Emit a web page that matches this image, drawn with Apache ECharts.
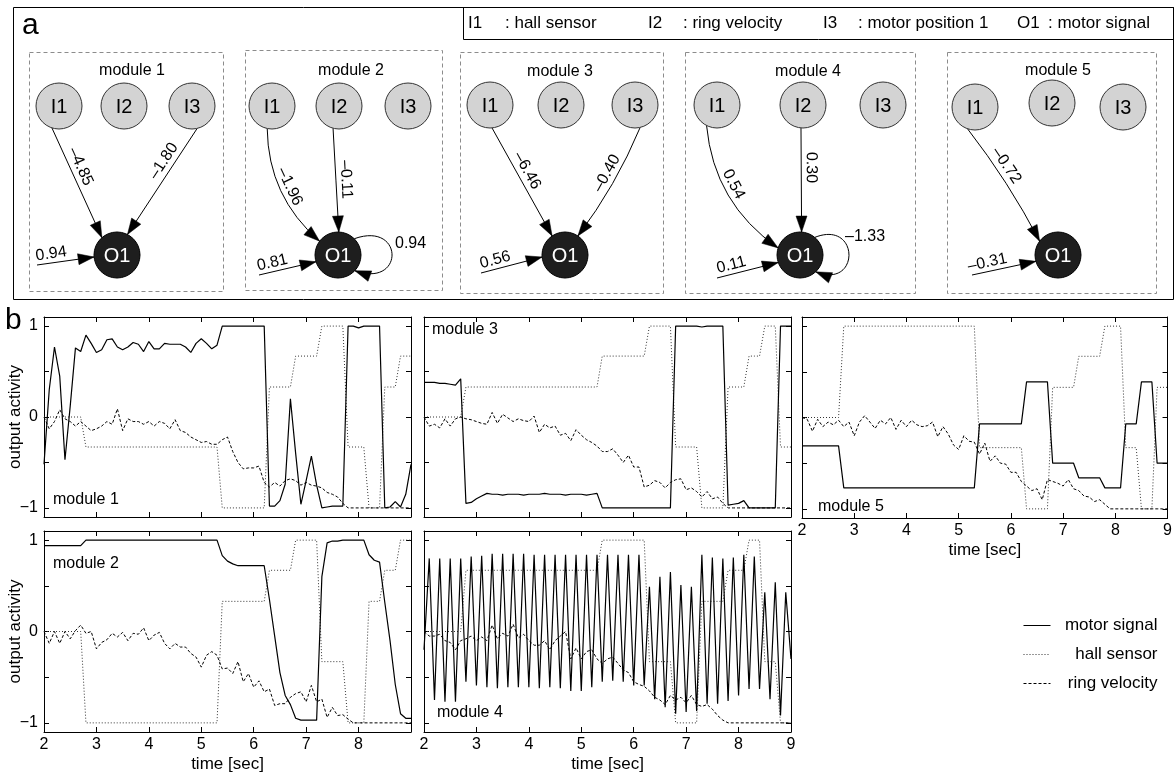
<!DOCTYPE html>
<html><head><meta charset="utf-8">
<script src="https://cdn.jsdelivr.net/npm/echarts@6.0.0/dist/echarts.min.js"></script>
<style>html,body{margin:0;padding:0;background:#fff}#c{width:1175px;height:776px}</style>
</head><body><div id="c"></div>
<script>
// ---------------- DATA ----------------
const times = [2.0,2.1,2.2,2.3,2.4,2.5,2.6,2.7,2.8,2.9,3.0,3.1,3.2,3.3,3.4,3.5,3.6,3.7,3.8,3.9,
  4.0,4.1,4.2,4.3,4.4,4.5,4.6,4.7,4.8,4.9,5.0,5.1,5.2,5.3,5.4,5.5,5.6,5.7,5.8,5.9,
  6.0,6.1,6.2,6.3,6.4,6.5,6.6,6.7,6.8,6.9,7.0,7.1,7.2,7.3,7.4,7.5,7.6,7.7,7.8,7.9,
  8.0,8.1,8.2,8.3,8.4,8.5,8.6,8.7,8.8,8.9,9.0];
const xTickLabels = [2,3,4,5,6,7,8,9];
const yTickLabels = [-1,0,1];

const motor1 = [-0.52,0.30,0.77,0.45,-0.47,0.12,0.76,0.72,0.90,0.81,
  0.71,0.74,0.85,0.86,0.77,0.74,0.77,0.82,0.80,0.72,
  0.83,0.75,0.75,0.81,0.80,0.80,0.80,0.77,0.71,0.81,
  0.86,0.81,0.75,0.79,1.00,1.00,1.00,1.00,1.00,1.00,
  1.00,1.00,1.00,-0.98,-0.98,-0.92,-0.74,0.20,-0.40,-0.96,
  -0.70,-0.43,-0.75,-1.00,-0.99,-0.98,-0.98,-0.98,1.00,1.00,
  0.98,1.00,1.00,1.00,1.00,-1.00,-0.99,-0.93,-0.99,-0.85,
  -0.52];
const hall1 = [0,0,0,0,0,0,0,0,-0.33,-0.33,
  -0.33,-0.33,-0.33,-0.33,-0.33,-0.33,-0.33,-0.33,-0.33,-0.33,
  -0.33,-0.33,-0.33,-0.33,-0.33,-0.33,-0.33,-0.33,-0.33,-0.33,
  -0.33,-0.33,-0.33,-0.33,-1,-1,-1,-1,-1,-1,
  -1,-1,-1,0.33,0.33,0.33,0.33,0.33,0.67,0.67,
  0.67,0.67,0.67,1,1,1,1,1,-0.33,-0.33,
  -0.33,-0.33,-1,-1,-1,0.33,0.33,0.33,0.67,0.67,
  0.67];
const ring1 = [0,-0.13,-0.05,0.08,-0.02,-0.05,-0.10,-0.05,-0.10,-0.15,
  -0.13,-0.10,-0.05,-0.08,0.09,-0.15,-0.02,-0.05,-0.05,-0.08,
  -0.05,-0.10,-0.05,-0.07,-0.13,-0.03,-0.15,-0.17,-0.22,-0.25,
  -0.28,-0.27,-0.30,-0.30,-0.25,-0.22,-0.38,-0.50,-0.57,-0.56,
  -0.56,-0.54,-0.72,-0.77,-0.72,-0.76,-0.70,-0.68,-0.70,-0.75,
  -0.72,-0.75,-0.76,-0.78,-0.83,-0.85,-0.88,-0.95,-1,-1,
  -1,-1,-1,-1,-1,-1,-1,-1,-1,-1,
  -1];

const motor2 = [0.94,0.94,0.94,0.94,0.94,0.94,0.94,0.94,1,1,
  1,1,1,1,1,1,1,1,1,1,
  1,1,1,1,1,1,1,1,1,1,
  1,1,1,1,0.83,0.77,0.74,0.72,0.72,0.72,
  0.72,0.72,0.72,0.35,-0.05,-0.45,-0.70,-0.80,-0.95,-0.97,
  -0.97,-0.97,-0.97,0.60,0.97,0.99,0.99,1,1,1,
  1,1,0.84,0.78,0.76,0.32,-0.10,-0.58,-0.90,-0.95,
  -0.95];
const hall2 = [0,0,0,0,0,0,0,0,-1,-1,
  -1,-1,-1,-1,-1,-1,-1,-1,-1,-1,
  -1,-1,-1,-1,-1,-1,-1,-1,-1,-1,
  -1,-1,-1,-1,0.33,0.33,0.33,0.33,0.33,0.33,
  0.33,0.33,0.33,0.67,0.67,0.67,0.67,0.67,1,1,
  1,1,1,-0.33,-0.33,-0.33,-0.33,-0.33,-1,-1,
  -1,-1,0.33,0.33,0.33,0.67,0.67,0.67,1,1,
  1];
const ring2 = [0,-0.13,0,-0.13,0,-0.08,0.01,0.07,-0.02,0,
  -0.19,-0.12,-0.09,-0.02,-0.06,-0.01,-0.10,-0.02,-0.03,0.04,
  -0.10,-0.04,-0.01,-0.13,-0.19,-0.13,-0.17,-0.17,-0.24,-0.28,
  -0.39,-0.26,-0.22,-0.26,-0.41,-0.40,-0.46,-0.33,-0.55,-0.46,
  -0.61,-0.54,-0.66,-0.63,-0.81,-0.79,-0.79,-0.72,-0.68,-0.66,
  -0.77,-0.59,-0.77,-0.74,-0.94,-0.83,-0.92,-0.91,-0.96,-1,
  -1,-1,-1,-1,-1,-1,-1,-1,-1,-1,
  -1];

const motor3 = [0.38,0.38,0.38,0.37,0.37,0.36,0.35,0.42,-0.95,-0.94,
  -0.90,-0.87,-0.84,-0.85,-0.85,-0.86,-0.85,-0.85,-0.85,-0.86,
  -0.85,-0.85,-0.85,-0.84,-0.85,-0.85,-0.85,-0.86,-0.85,-0.85,
  -0.85,-0.86,-0.85,-0.84,-1,-1,-1,-1,-1,-1,
  -1,-1,-1,-1,-1,-1,-1,-1,1,1,
  1,1,1,0.99,1,1,1,1,-0.97,-0.96,
  -0.95,-0.92,-1,-1,-1,-1,-1,-1,1,1,
  1];
const hall3 = [0,0,0,0,0,0,0,0,0.33,0.33,
  0.33,0.33,0.33,0.33,0.33,0.33,0.33,0.33,0.33,0.33,
  0.33,0.33,0.33,0.33,0.33,0.33,0.33,0.33,0.33,0.33,
  0.33,0.33,0.33,0.33,0.67,0.67,0.67,0.67,0.67,0.67,
  0.67,0.67,0.67,1,1,1,1,1,-0.33,-0.33,
  -0.33,-0.33,-0.33,-1,-1,-1,-1,-1,0.33,0.33,
  0.33,0.33,0.67,0.67,0.67,1,1,1,-0.33,-0.33,
  -0.33];
const ring3 = [0,-0.10,-0.08,-0.12,-0.02,-0.10,-0.02,0,-0.02,-0.03,
  -0.05,-0.07,-0.08,0.05,-0.07,0.03,-0.01,-0.05,-0.02,-0.04,
  -0.05,0.01,-0.17,-0.08,-0.12,-0.10,-0.20,-0.18,-0.26,-0.14,
  -0.20,-0.25,-0.28,-0.32,-0.38,-0.38,-0.35,-0.42,-0.50,-0.42,
  -0.55,-0.55,-0.77,-0.75,-0.70,-0.72,-0.78,-0.72,-0.69,-0.68,
  -0.80,-0.78,-0.82,-0.88,-0.82,-0.90,-0.88,-0.95,-1,-1,
  -1,-1,-1,-1,-1,-1,-1,-1,-1,-1,
  -1];

const motor4 = [-0.20,0.80,-0.75,0.80,-0.77,0.80,-0.77,0.80,-0.55,0.82,
  -0.59,0.83,-0.61,0.85,-0.62,0.85,-0.61,0.85,-0.61,0.85,
  -0.61,0.84,-0.62,0.84,-0.61,0.84,-0.62,0.84,-0.65,0.84,
  -0.65,0.84,-0.61,0.84,-0.55,0.84,-0.54,0.84,-0.55,0.84,
  -0.59,0.84,-0.59,0.49,-0.74,0.60,-0.83,0.65,-0.90,0.51,
  -0.88,0.49,-0.87,0.84,-0.79,0.81,-0.79,0.80,-0.76,0.81,
  -0.70,0.84,-0.63,0.82,-0.63,0.43,-0.74,0.54,-0.92,0.43,
  -0.30];
const hall4 = [0,0,0,0,0,0,0,0,0.67,0.67,
  0.67,0.67,0.67,0.67,0.67,0.67,0.67,0.67,0.67,0.67,
  0.67,0.67,0.67,0.67,0.67,0.67,0.67,0.67,0.67,0.67,
  0.67,0.67,0.67,0.67,1,1,1,1,1,1,
  1,1,1,-0.33,-0.33,-0.33,-0.33,-0.33,-1,-1,
  -1,-1,-1,0.33,0.33,0.33,0.33,0.33,0.67,0.67,
  0.67,0.67,1,1,1,-0.33,-0.33,-0.33,-1,-1,
  -1];
const ring4 = [0,-0.05,-0.05,-0.03,-0.10,-0.12,-0.20,-0.10,-0.08,-0.05,
  -0.10,-0.06,-0.10,0.07,-0.08,-0.02,-0.05,0.08,-0.07,-0.03,
  -0.10,-0.15,-0.15,-0.10,-0.20,-0.10,-0.05,0,-0.30,-0.18,
  -0.30,-0.22,-0.20,-0.30,-0.35,-0.30,-0.28,-0.35,-0.42,-0.45,
  -0.55,-0.58,-0.60,-0.65,-0.72,-0.75,-0.80,-0.70,-0.75,-0.72,
  -0.78,-0.70,-0.80,-0.82,-0.80,-0.85,-0.92,-0.97,-1,-1,
  -1,-1,-1,-1,-1,-1,-1,-1,-1,-1,
  -1];

const motor5 = [-0.31,-0.31,-0.31,-0.31,-0.31,-0.31,-0.31,-0.31,-0.77,-0.77,
  -0.77,-0.77,-0.77,-0.77,-0.77,-0.77,-0.77,-0.77,-0.77,-0.77,
  -0.77,-0.77,-0.77,-0.77,-0.77,-0.77,-0.77,-0.77,-0.77,-0.77,
  -0.77,-0.77,-0.77,-0.77,-0.07,-0.07,-0.07,-0.07,-0.07,-0.07,
  -0.07,-0.07,-0.07,0.39,0.39,0.39,0.39,0.39,-0.50,-0.50,
  -0.50,-0.50,-0.50,-0.66,-0.66,-0.66,-0.66,-0.66,-0.77,-0.77,
  -0.77,-0.77,-0.07,-0.07,-0.07,0.39,0.39,0.39,-0.50,-0.50,
  -0.50];
const hall5 = [0,0,0,0,0,0,0,0,1,1,
  1,1,1,1,1,1,1,1,1,1,
  1,1,1,1,1,1,1,1,1,1,
  1,1,1,1,-0.33,-0.33,-0.33,-0.33,-0.33,-0.33,
  -0.33,-0.33,-0.33,-1,-1,-1,-1,-1,0.33,0.33,
  0.33,0.33,0.33,0.67,0.67,0.67,0.67,0.67,1,1,
  1,1,-0.33,-0.33,-0.33,-1,-1,-1,0.33,0.33,
  0.33];
const ring5 = [0,-0.02,-0.15,-0.02,-0.10,-0.05,-0.08,-0.03,-0.10,-0.05,
  -0.20,-0.05,0.02,-0.05,-0.12,-0.03,-0.07,0,-0.13,-0.03,
  -0.10,-0.03,-0.08,-0.10,-0.09,-0.05,-0.21,-0.10,-0.18,-0.30,
  -0.35,-0.20,-0.26,-0.27,-0.40,-0.28,-0.48,-0.42,-0.50,-0.51,
  -0.60,-0.60,-0.70,-0.75,-0.80,-0.78,-0.90,-0.68,-0.70,-0.72,
  -0.75,-0.68,-0.78,-0.80,-0.86,-0.87,-0.92,-0.90,-0.95,-1,
  -1,-1,-1,-1,-1,-1,-1,-1,-1,-1,
  -1];

const seriesNames = ['motor signal','hall sensor','ring velocity'];
const moduleNames = ['module 1','module 2','module 3','module 4','module 5'];
const inputNames = ['I1','I2','I3'];
const outputName = 'O1';
const nodeLegend = [['I1','hall sensor'],['I2','ring velocity'],['I3','motor position 1'],['O1','motor signal']];
// network weights
const edgeModule = [0,0,1,1,2,2,3,3,4];
const edgeSource = ['I1','I3','I1','I2','I1','I3','I1','I2','I1'];
const edgeWeight = [-4.85,-1.80,-1.96,-0.11,-6.46,-0.40,0.54,0.30,-0.72];
const biasWeight = [0.94,0.81,0.56,0.11,-0.31];
const selfWeight = [null,0.94,null,-1.33,null];

// ---------------- LAYOUT / STYLE ----------------
const FONT = '"Liberation Sans", Arial, Helvetica, sans-serif';
const NODE_R = 23, AL = 16, AW = 5.5;
const diagramModules = [
  {box:[29,52,194,239], title:[132,71], inputs:[[59,106],[124,106],[192,106]], out:[117,255], biasFrom:[37,265], biasAngle:175, loop:null},
  {box:[245,50,197,240], title:[351,71], inputs:[[272,106],[339,106],[408,106]], out:[338,255], biasFrom:[259,275], biasAngle:163, loop:{a0:-45,a1:43,k:50,k2:18,label:[395,244]}},
  {box:[460,52,203,241], title:[560,72], inputs:[[490,105],[561,105],[635,105]], out:[565,255], biasFrom:[481,273], biasAngle:175, loop:null},
  {box:[685,52,230,241], title:[808,72], inputs:[[717,105],[803,105],[883,105]], out:[800,255], biasFrom:[717,278], biasAngle:161, loop:{a0:-50,a1:47,k:45,k2:18,label:[845,237]}},
  {box:[947,52,209,241], title:[1058,71], inputs:[[975,107],[1052,103],[1123,107]], out:[1058,255], biasFrom:[972,275], biasAngle:164, loop:null}
];
const edgeShape = [
  {sa:108, ea:-131, bend:0, t:0.39},
  {sa:77, ea:-63, bend:0, t:0.36},
  {sa:102, ea:-143, bend:28, t:0.5},
  {sa:105, ea:-88, bend:0, t:0.5},
  {sa:85, ea:-124, bend:0, t:0.44},
  {sa:77, ea:-56, bend:-8, t:0.45},
  {sa:117, ea:-162, bend:33, t:0.45},
  {sa:95, ea:-86, bend:0, t:0.38},
  {sa:109, ea:-143, bend:-6, t:0.39}
];
const plots = [
  {grid:{left:44,top:317,width:367,height:200}, xLabels:null, yLabels:true, xName:false, label:[53,500]},
  {grid:{left:44,top:531,width:367,height:201}, xLabels:[2,3,4,5,6,7,8], yLabels:true, xName:true, label:[53,564]},
  {grid:{left:424,top:317,width:367,height:200}, xLabels:null, yLabels:false, xName:false, label:[432,330]},
  {grid:{left:424,top:531,width:367,height:201}, xLabels:xTickLabels, yLabels:false, xName:true, label:[437,713]},
  {grid:{left:802,top:317,width:367,height:201}, xLabels:xTickLabels, yLabels:false, xName:true, label:[818,507]}
];
const moduleData = [[motor1,hall1,ring1],[motor2,hall2,ring2],[motor3,hall3,ring3],[motor4,hall4,ring4],[motor5,hall5,ring5]];
const lineStyles = [
  {color:'#000', width:1.2, type:'solid'},
  {color:'#333', width:1, type:[1,2]},
  {color:'#000', width:1, type:[3,2]}
];

// ---------------- HELPERS ----------------
function fmtW(w){ return (w < 0 ? '\u2013' : '') + Math.abs(w).toFixed(2); }
function txt(s, x, y, size, align, extra){
  return Object.assign({type:'text', x:x, y:y, style:{text:s, font:size+'px '+FONT, fill:'#000',
    textAlign:align, textVerticalAlign:'middle', align:align, verticalAlign:'middle'}}, extra||{});
}
function onCircle(c, ang){ const a = ang*Math.PI/180; return [c[0]+NODE_R*Math.cos(a), c[1]+NODE_R*Math.sin(a)]; }
function arrowHead(tip, from){
  const dx = tip[0]-from[0], dy = tip[1]-from[1], l = Math.hypot(dx,dy);
  const ux = dx/l, uy = dy/l, bx = tip[0]-ux*AL, by = tip[1]-uy*AL;
  return {type:'polygon', shape:{points:[[tip[0],tip[1]],[bx-uy*AW,by+ux*AW],[bx+uy*AW,by-ux*AW]]}, style:{fill:'#000', stroke:'#000', lineWidth:0.5}};
}
function quadPt(p0,c,p2,t){ const u=1-t; return [u*u*p0[0]+2*u*t*c[0]+t*t*p2[0], u*u*p0[1]+2*u*t*c[1]+t*t*p2[1]]; }
function quadTan(p0,c,p2,t){ const u=1-t; return [2*u*(c[0]-p0[0])+2*t*(p2[0]-c[0]), 2*u*(c[1]-p0[1])+2*t*(p2[1]-c[1])]; }
function alongLabel(s, pos, tan, off){
  let tx = tan[0], ty = tan[1];
  if (Math.abs(tx) < 0.1*Math.abs(ty)) { tx = Math.abs(tx); ty = Math.abs(ty); }
  let th = Math.atan2(ty, tx);
  if (tx < 0) th += Math.PI;
  return txt(s, pos[0] + off*Math.sin(th), pos[1] - off*Math.cos(th), 16, 'center', {rotation:-th});
}

function renderModule(params, api){
  const k = params.dataIndex;
  const L = diagramModules[k];
  const P = p => api.coord(p);
  const ch = [];
  const b0 = P([L.box[0], L.box[1]]), b1 = P([L.box[0]+L.box[2], L.box[1]+L.box[3]]);
  ch.push({type:'rect', shape:{x:b0[0]+0.5, y:b0[1]+0.5, width:b1[0]-b0[0], height:b1[1]-b0[1]},
    style:{fill:'none', stroke:'#8c8c8c', lineWidth:1, lineDash:[4,3]}});
  const tp = P(L.title);
  ch.push(txt(moduleNames[k], tp[0], tp[1], 16, 'center'));
  const inPts = L.inputs.map(P);
  const o = P(L.out);
  // edges from inputs
  edgeModule.forEach((m, e) => {
    if (m !== k) return;
    const sh = edgeShape[e];
    const src = inPts[inputNames.indexOf(edgeSource[e])];
    const p0 = onCircle(src, sh.sa), p2 = onCircle(o, sh.ea);
    const dx = p2[0]-p0[0], dy = p2[1]-p0[1], len = Math.hypot(dx,dy);
    const c = [(p0[0]+p2[0])/2 - dy/len*sh.bend, (p0[1]+p2[1])/2 + dx/len*sh.bend];
    ch.push({type:'bezierCurve', shape:{x1:p0[0],y1:p0[1],x2:p2[0],y2:p2[1],cpx1:c[0],cpy1:c[1]},
      style:{fill:'none', stroke:'#000', lineWidth:1}});
    ch.push(arrowHead(p2, c));
    ch.push(alongLabel(fmtW(edgeWeight[e]), quadPt(p0,c,p2,sh.t), quadTan(p0,c,p2,sh.t), 10));
  });
  // bias
  const bs = P(L.biasFrom), bt = onCircle(o, L.biasAngle);
  ch.push({type:'line', shape:{x1:bs[0],y1:bs[1],x2:bt[0],y2:bt[1]}, style:{stroke:'#000', lineWidth:1}});
  ch.push(arrowHead(bt, bs));
  const bmid = [bs[0]+(bt[0]-bs[0])*0.27, bs[1]+(bt[1]-bs[1])*0.27];
  ch.push(alongLabel(fmtW(biasWeight[k]), bmid, [bt[0]-bs[0], bt[1]-bs[1]], 9));
  // self loop
  if (L.loop && selfWeight[k] !== null) {
    const lp = L.loop;
    const q0 = onCircle(o, lp.a0), q3 = onCircle(o, lp.a1);
    const c1 = [q0[0]+lp.k, q0[1]-lp.k2], c2 = [q3[0]+lp.k, q3[1]+lp.k2];
    ch.push({type:'bezierCurve', shape:{x1:q0[0],y1:q0[1],x2:q3[0],y2:q3[1],cpx1:c1[0],cpy1:c1[1],cpx2:c2[0],cpy2:c2[1]},
      style:{fill:'none', stroke:'#000', lineWidth:1}});
    ch.push(arrowHead(q3, c2));
    const lpos = P(lp.label);
    ch.push(txt(fmtW(selfWeight[k]), lpos[0], lpos[1], 16, 'left'));
  }
  // nodes
  inPts.forEach((p, i) => {
    ch.push({type:'circle', shape:{cx:p[0], cy:p[1], r:NODE_R}, style:{fill:'#d3d3d3', stroke:'#333', lineWidth:1}});
    ch.push(txt(inputNames[i], p[0], p[1]+1, 20, 'center'));
  });
  ch.push({type:'circle', shape:{cx:o[0], cy:o[1], r:NODE_R}, style:{fill:'#1e1e1e', stroke:'#000', lineWidth:1}});
  ch.push(txt(outputName, o[0], o[1]+1, 20, 'center', {}));
  ch[ch.length-1].style.fill = '#fff';
  return {type:'group', children:ch};
}

// ---------------- OPTION ----------------
const grid = [], xAxis = [], yAxis = [], series = [];
const axisLine = {show:true, onZero:false, lineStyle:{color:'#000', width:1}};
const axisTick = {show:true, inside:true, length:5, lineStyle:{color:'#000', width:1}};
const nameStyle = {color:'#000', fontSize:17, fontFamily:FONT};
plots.forEach((p, i) => {
  grid.push(Object.assign({}, p.grid));
  const xb = {type:'value', gridIndex:i, min:2, max:9, interval:1, splitLine:{show:false}, axisLine:axisLine, axisTick:axisTick};
  xAxis.push(Object.assign({}, xb, {position:'bottom',
    axisLabel: p.xLabels ? {show:true, customValues:p.xLabels, margin:5, color:'#000', fontSize:16, fontFamily:FONT} : {show:false},
    name: p.xName ? 'time [sec]' : '', nameLocation:'middle', nameGap:24, nameMoveOverlap:false, nameTextStyle:nameStyle}));
  xAxis.push(Object.assign({}, xb, {position:'top', axisLabel:{show:false}}));
  const yb = {type:'value', gridIndex:i, min:-1.1, max:1.1, splitLine:{show:false}, axisLine:axisLine,
    axisTick:Object.assign({}, axisTick, {customValues:[-1,-0.5,0,0.5,1]})};
  yAxis.push(Object.assign({}, yb, {position:'left',
    axisLabel: p.yLabels ? {show:true, customValues:yTickLabels, margin:6, color:'#000', fontSize:16, fontFamily:FONT,
      formatter: v => (v < 0 ? '\u2212' : '') + Math.abs(v)} : {show:false},
    name: p.yLabels ? 'output activity' : '', nameLocation:'middle', nameGap:20, nameMoveOverlap:false, nameTextStyle:nameStyle}));
  yAxis.push(Object.assign({}, yb, {position:'right', axisLabel:{show:false}}));
  moduleData[i].forEach((arr, s) => {
    series.push({type:'line', name:seriesNames[s], xAxisIndex:2*i, yAxisIndex:2*i, symbol:'none', silent:true,
      data: times.map((t, j) => [t, arr[j]]), lineStyle:lineStyles[s], itemStyle:{color:lineStyles[s].color},
      z: s === 0 ? 4 : 3, emphasis:{disabled:true}});
  });
});
// diagram grid (panel a)
grid.push({left:0, top:0, width:1175, height:300});
xAxis.push({type:'value', gridIndex:5, min:0, max:1175, show:false});
yAxis.push({type:'value', gridIndex:5, min:0, max:300, inverse:true, show:false});
series.push({type:'custom', name:'network', xAxisIndex:10, yAxisIndex:10, silent:true, z:5,
  data: moduleNames.map((m, i) => [i]), renderItem: renderModule});

const graphic = [
  {type:'rect', shape:{x:13.5, y:7.5, width:1160, height:292}, style:{fill:'none', stroke:'#000', lineWidth:1}},
  {type:'rect', shape:{x:463.5, y:7.5, width:710, height:32}, style:{fill:'none', stroke:'#000', lineWidth:1}},
  txt('a', 22, 26, 30, 'left'),
  txt('b', 5, 321, 30, 'left')
];
const legendPos = [[468,505],[648,683],[823,858],[1017,1048]];
nodeLegend.forEach((n, i) => {
  graphic.push(txt(n[0], legendPos[i][0], 23, 17, 'left'));
  graphic.push(txt(': ' + n[1], legendPos[i][1], 23, 17, 'left'));
});
plots.forEach((p, i) => graphic.push(txt(moduleNames[i], p.label[0], p.label[1], 16, 'left')));

const option = {
  animation:false,
  backgroundColor:'#fff',
  grid, xAxis, yAxis, series, graphic,
  legend:{data:seriesNames, orient:'vertical', left:1018, top:612, itemWidth:27, itemHeight:14, itemGap:12,
    selectedMode:false, formatter:'{a|{name}}', itemStyle:{opacity:0, borderWidth:0}, lineStyle:{width:1},
    textStyle:{color:'#000', fontFamily:FONT, fontSize:17, rich:{a:{width:102, align:'right', fontSize:17, fontFamily:FONT, lineHeight:20, color:'#000'}}}}
};
const chart = echarts.init(document.getElementById('c'), null, {renderer:'canvas'});
chart.setOption(option);
</script></body></html>
